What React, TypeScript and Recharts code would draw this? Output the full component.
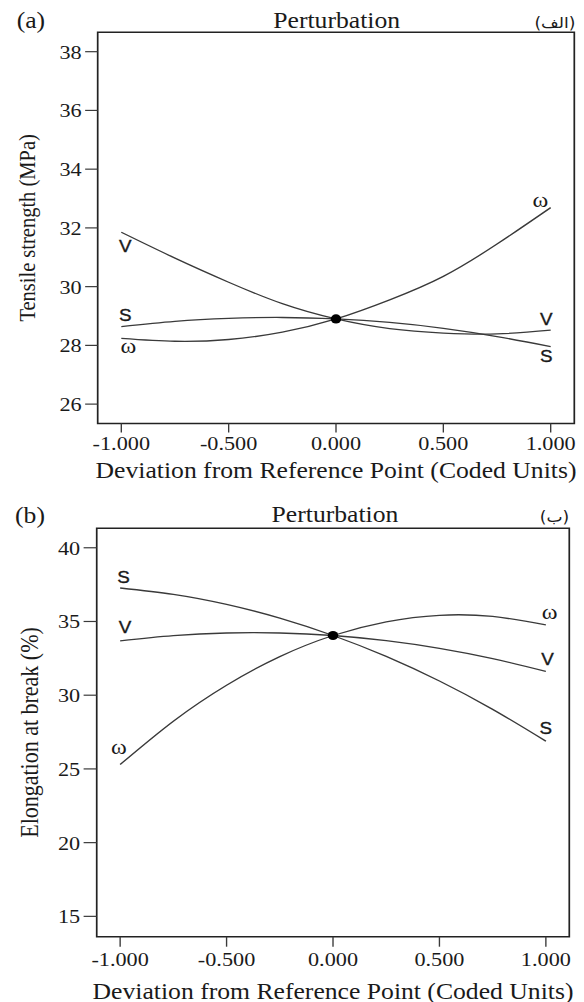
import React from 'react';
import { LineChart, Line, XAxis, YAxis, ReferenceArea, ReferenceDot, LabelList, Label } from 'recharts';

// ---------- data ----------
const deviation = [-1, -0.75, -0.5, -0.25, 0, 0.25, 0.5, 0.75, 1];

const tensileS = [28.64, 28.82, 28.92, 28.95, 28.9, 28.78, 28.58, 28.3, 27.96];
const tensileV = [31.85, 30.97, 30.15, 29.42, 28.9, 28.57, 28.42, 28.39, 28.52];
const tensileW = [28.24, 28.14, 28.2, 28.45, 28.9, 29.55, 30.35, 31.45, 32.69];

const elongS = [37.27, 36.84, 36.16, 35.23, 34.05, 32.63, 30.96, 29.04, 26.88];
const elongV = [33.69, 34.04, 34.22, 34.22, 34.05, 33.7, 33.18, 32.48, 31.61];
const elongW = [25.3, 28.24, 30.68, 32.62, 34.05, 34.98, 35.42, 35.34, 34.77];

const xTicks = [-1, -0.5, 0, 0.5, 1];
const tensileTicks = [26, 28, 30, 32, 34, 36, 38];
const elongTicks = [15, 20, 25, 30, 35, 40];

const tensileRef = { x: 0, y: 28.9 };
const elongRef = { x: 0, y: 34.05 };

const seriesNames = ['S', 'V', 'ω'];
const panelTitle = 'Perturbation';
const xAxisTitle = 'Deviation from Reference Point (Coded Units)';

// ---------- layout ----------
const BASE_W = 512;
const SX = 584 / BASE_W;
const SERIF = '"Liberation Serif", "Times New Roman", serif';
const SANS = '"Liberation Sans", Arial, sans-serif';
const INK = '#1a1a1a';
const LINE = '#3a3a3a';

type Off = [number, number];

const makeEndLabel = (text: string, serif: boolean, start: Off, end: Off, last: number) => (props: any) => {
  const { index } = props;
  if (index !== 0 && index !== last) return null;
  const vb = props.viewBox || {};
  const px = vb.x ?? props.x;
  const py = vb.y ?? props.y;
  const [dx, dy] = index === 0 ? start : end;
  return (
    <text
      key={`lbl-${text}-${index}`}
      x={px + dx}
      y={py + dy}
      textAnchor="middle"
      fill={INK}
      stroke={serif ? 'none' : INK}
      strokeWidth={serif ? 0 : 0.35}
      fontFamily={serif ? SERIF : SANS}
      fontSize={serif ? 21 : 16.5}
    >
      {text}
    </text>
  );
};

interface PanelProps {
  top: number;
  height: number;
  data: any[];
  yDomain: [number, number];
  yTicks: number[];
  margin: { top: number; right: number; bottom: number; left: number };
  yAxisWidth: number;
  xAxisHeight: number;
  xTickSize: number;
  xTickMargin: number;
  yTickSize: number;
  yLabel: string;
  yLabelSize: number;
  yLabelX: number;
  xLabelOffset: number;
  refPoint: { x: number; y: number };
  offsets: Record<string, [Off, Off]>;
}

const Panel = (p: PanelProps) => {
  const last = p.data.length - 1;
  const tickStyle = { fill: INK, fontSize: 19.5, fontFamily: SERIF };
  return (
    <div style={{ position: 'absolute', left: 0, top: p.top }}>
      <LineChart width={BASE_W} height={p.height} data={p.data} margin={p.margin}>
        <XAxis
          type="number"
          dataKey="x"
          domain={[-1.11, 1.11]}
          ticks={xTicks}
          interval={0}
          allowDataOverflow
          tickFormatter={(v: number) => v.toFixed(3)}
          axisLine={false}
          tickLine={{ stroke: LINE, strokeWidth: 1.2 }}
          tickSize={p.xTickSize}
          tickMargin={p.xTickMargin}
          height={p.xAxisHeight}
          tick={tickStyle}
        >
          <Label
            content={(lp: any) => {
              const vb = lp.viewBox;
              return (
                <text
                  x={vb.x + vb.width / 2}
                  y={vb.y + p.xLabelOffset}
                  textAnchor="middle"
                  fill={INK}
                  fontFamily={SERIF}
                  fontSize={22.5}
                >
                  {xAxisTitle}
                </text>
              );
            }}
          />
        </XAxis>
        <YAxis
          type="number"
          domain={p.yDomain}
          ticks={p.yTicks}
          interval={0}
          allowDataOverflow
          axisLine={false}
          tickLine={{ stroke: LINE, strokeWidth: 1.2 }}
          tickSize={p.yTickSize}
          tickMargin={3}
          width={p.yAxisWidth}
          tick={tickStyle}
        >
          <Label
            content={(lp: any) => {
              const vb = lp.viewBox;
              const cx = p.yLabelX;
              const cy = vb.y + vb.height / 2;
              return (
                <text
                  x={cx}
                  y={cy}
                  transform={`rotate(-90 ${cx} ${cy})`}
                  textAnchor="middle"
                  dominantBaseline="central"
                  fill={INK}
                  fontFamily={SERIF}
                  fontSize={p.yLabelSize}
                >
                  {p.yLabel}
                </text>
              );
            }}
          />
        </YAxis>
        {['S', 'V', 'W'].map((k, i) => (
          <Line
            key={k}
            dataKey={k}
            type="natural"
            stroke={LINE}
            strokeWidth={1.3}
            dot={false}
            activeDot={false}
            isAnimationActive={false}
          >
            <LabelList
              dataKey={k}
              content={makeEndLabel(seriesNames[i], k === 'W', p.offsets[k][0], p.offsets[k][1], last)}
            />
          </Line>
        ))}
        <ReferenceArea
          x1={-1.11}
          x2={1.11}
          y1={p.yDomain[0]}
          y2={p.yDomain[1]}
          fill="none"
          stroke="#222"
          strokeWidth={1.5}
          ifOverflow="visible"
        />
        <ReferenceDot x={p.refPoint.x} y={p.refPoint.y} r={4.6} fill="#000" stroke="none" ifOverflow="visible" />
      </LineChart>
    </div>
  );
};

const buildRows = (s: number[], v: number[], w: number[]) =>
  deviation.map((x, i) => ({ x, S: s[i], V: v[i], W: w[i] }));

export default function App() {
  const dataA = buildRows(tensileS, tensileV, tensileW);
  const dataB = buildRows(elongS, elongV, elongW);
  return (
    <div style={{ position: 'absolute', left: 0, top: 0, width: 584, height: 1002, background: '#fff', overflow: 'hidden' }}>
      <div
        style={{
          position: 'absolute',
          left: 0,
          top: 0,
          width: BASE_W,
          height: 1002,
          transform: `scaleX(${SX})`,
          transformOrigin: '0 0',
        }}
      >
        <Panel
          top={0}
          height={490}
          data={dataA}
          yDomain={[25.34, 38.66]}
          yTicks={tensileTicks}
          margin={{ top: 32.3, right: 8.5, bottom: 26.5, left: 0 }}
          yAxisWidth={85.65}
          xAxisHeight={40}
          xTickSize={9}
          xTickMargin={4}
          yTickSize={11}
          yLabel="Tensile strength (MPa)"
          yLabelSize={20.5}
          yLabelX={24.1}
          xLabelOffset={55}
          refPoint={tensileRef}
          offsets={{
            S: [[3.5, -5.7], [-3.8, 15.5]],
            V: [[3.5, 19.8], [-3.8, -5.3]],
            W: [[6.1, 15], [-9, -0.5]],
          }}
        />
        <Panel
          top={490}
          height={512}
          data={dataB}
          yDomain={[13.62, 41.32]}
          yTicks={elongTicks}
          margin={{ top: 38.3, right: 12.9, bottom: 25.3, left: 0 }}
          yAxisWidth={84.8}
          xAxisHeight={40}
          xTickSize={10}
          xTickMargin={5}
          yTickSize={11.5}
          yLabel="Elongation at break (%)"
          yLabelSize={22}
          yLabelX={25.6}
          xLabelOffset={62}
          refPoint={elongRef}
          offsets={{
            S: [[3, -5.3], [0, -6.7]],
            V: [[4.3, -7.7], [1.4, -6.7]],
            W: [[-1.1, -10], [3.3, -5.7]],
          }}
        />
        <svg
          width={BASE_W}
          height={1002}
          style={{ position: 'absolute', left: 0, top: 0, pointerEvents: 'none' }}
        >
          <text x={14.6} y={28.3} fill={INK} fontFamily={SERIF} fontSize={22.5}>(a)</text>
          <text x={295.2} y={28.3} textAnchor="middle" fill={INK} fontFamily={SERIF} fontSize={22.5}>{panelTitle}</text>
          <text x={504.5} y={28} textAnchor="end" fill={INK} fontFamily='"DejaVu Sans", sans-serif' fontSize={15}>(الف)</text>
          <text x={13.2} y={523} fill={INK} fontFamily={SERIF} fontSize={22.5}>(b)</text>
          <text x={293.7} y={522} textAnchor="middle" fill={INK} fontFamily={SERIF} fontSize={22.5}>{panelTitle}</text>
          <text x={499.1} y={522} textAnchor="end" fill={INK} fontFamily='"DejaVu Sans", sans-serif' fontSize={15}>(ب)</text>
        </svg>
      </div>
    </div>
  );
}
